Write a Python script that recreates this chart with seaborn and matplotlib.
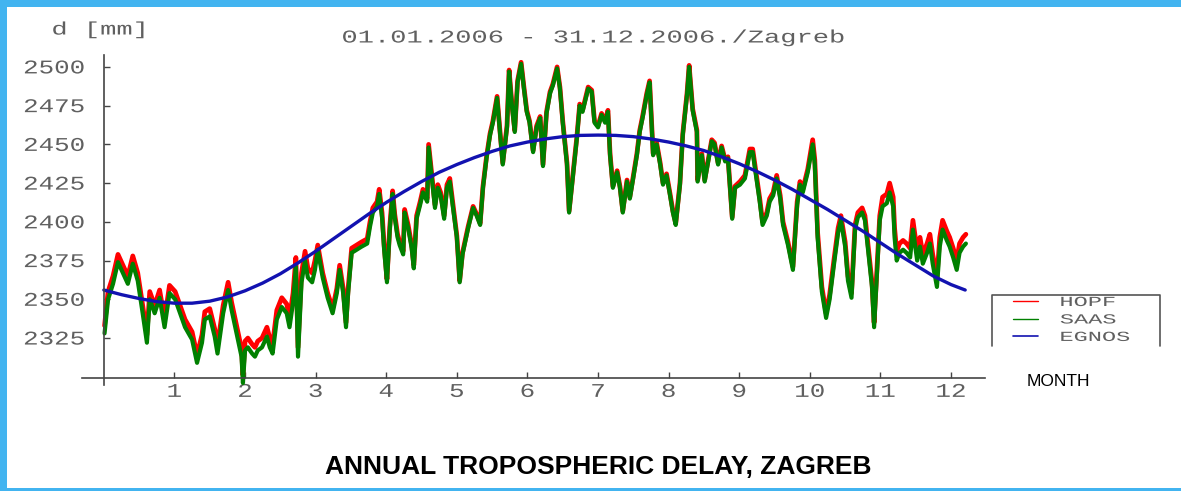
import matplotlib
matplotlib.use("Agg")
import matplotlib.pyplot as plt
import seaborn as sns
from matplotlib.patheffects import AbstractPathEffect
from matplotlib.transforms import Affine2D
from matplotlib.lines import Line2D
from matplotlib.patches import Rectangle

# ---------------- data ----------------
month = [
    0.01, 0.06, 0.13, 0.20, 0.27, 0.34, 0.41, 0.48, 0.55, 0.61,
    0.65, 0.72, 0.79, 0.86, 0.93, 1.01, 1.08, 1.15, 1.25, 1.32,
    1.39, 1.43, 1.50, 1.57, 1.61, 1.69, 1.76, 1.81, 1.88, 1.95,
    1.97, 2.00, 2.04, 2.10, 2.14, 2.18, 2.24, 2.31, 2.35, 2.39,
    2.45, 2.52, 2.59, 2.63, 2.68, 2.72, 2.75, 2.80, 2.85, 2.89,
    2.95, 2.99, 3.03, 3.10, 3.17, 3.24, 3.30, 3.34, 3.39, 3.43,
    3.46, 3.51, 3.58, 3.65, 3.73, 3.77, 3.81, 3.87, 3.90, 3.94,
    3.97, 4.01, 4.05, 4.09, 4.12, 4.16, 4.19, 4.24, 4.26, 4.31,
    4.36, 4.39, 4.43, 4.48, 4.52, 4.58, 4.60, 4.65, 4.69, 4.73,
    4.77, 4.82, 4.86, 4.90, 4.94, 5.00, 5.04, 5.08, 5.16, 5.23,
    5.28, 5.33, 5.37, 5.42, 5.47, 5.51, 5.57, 5.61, 5.65, 5.71,
    5.74, 5.78, 5.82, 5.86, 5.91, 5.95, 5.99, 6.03, 6.08, 6.13,
    6.18, 6.22, 6.27, 6.32, 6.36, 6.42, 6.46, 6.50, 6.56, 6.59,
    6.64, 6.70, 6.74, 6.78, 6.86, 6.91, 6.95, 7.00, 7.05, 7.10,
    7.14, 7.17, 7.21, 7.27, 7.31, 7.35, 7.41, 7.45, 7.49, 7.55,
    7.59, 7.63, 7.69, 7.73, 7.78, 7.83, 7.88, 7.92, 7.97, 8.02,
    8.06, 8.10, 8.16, 8.20, 8.26, 8.29, 8.34, 8.40, 8.41, 8.47,
    8.51, 8.56, 8.61, 8.65, 8.70, 8.75, 8.80, 8.84, 8.90, 8.94,
    9.01, 9.08, 9.15, 9.19, 9.25, 9.29, 9.33, 9.39, 9.43, 9.48,
    9.53, 9.58, 9.62, 9.69, 9.76, 9.82, 9.86, 9.90, 9.97, 10.04,
    10.07, 10.11, 10.17, 10.23, 10.28, 10.34, 10.40, 10.44, 10.50, 10.54,
    10.59, 10.64, 10.68, 10.74, 10.78, 10.82, 10.88, 10.91, 10.95, 10.99,
    11.03, 11.09, 11.13, 11.18, 11.20, 11.23, 11.27, 11.32, 11.37, 11.42,
    11.46, 11.52, 11.56, 11.60, 11.66, 11.70, 11.74, 11.80, 11.84, 11.88,
    11.94, 11.98, 12.03, 12.08, 12.12, 12.17, 12.21,
]

saas = [
    2328, 2350, 2360, 2374, 2367, 2360, 2373, 2362, 2341, 2322,
    2350, 2341, 2351, 2332, 2354, 2350, 2341, 2332, 2324, 2309,
    2322, 2337, 2339, 2326, 2315, 2341, 2356, 2343, 2328, 2313,
    2296, 2317, 2319, 2315, 2313, 2317, 2319, 2326, 2319, 2315,
    2337, 2345, 2341, 2332, 2348, 2371, 2313, 2361, 2375, 2364,
    2361, 2369, 2382, 2364, 2351, 2341, 2354, 2369, 2354, 2332,
    2354, 2380, 2382, 2384, 2386, 2397, 2406, 2410, 2418, 2403,
    2382, 2361, 2395, 2418, 2403, 2390, 2385, 2379, 2406, 2396,
    2383, 2370, 2402, 2411, 2419, 2413, 2448, 2426, 2409, 2422,
    2417, 2402, 2422, 2426, 2411, 2390, 2361, 2379, 2396, 2409,
    2404, 2398, 2422, 2441, 2456, 2464, 2480, 2458, 2437, 2461,
    2497, 2475, 2458, 2490, 2502, 2486, 2471, 2464, 2445, 2461,
    2467, 2436, 2470, 2483, 2488, 2499, 2486, 2464, 2437, 2406,
    2428, 2454, 2475, 2471, 2486, 2484, 2464, 2461, 2469, 2464,
    2471, 2443, 2422, 2432, 2422, 2406, 2426, 2415, 2426, 2443,
    2458, 2467, 2482, 2490, 2443, 2450, 2437, 2424, 2430, 2417,
    2406, 2398, 2424, 2456, 2482, 2500, 2472, 2458, 2426, 2443,
    2426, 2439, 2452, 2450, 2437, 2448, 2439, 2441, 2402, 2422,
    2424, 2428, 2445, 2445, 2426, 2413, 2398, 2404, 2413, 2417,
    2428, 2415, 2398, 2385, 2369, 2411, 2424, 2419, 2432, 2450,
    2437, 2390, 2355, 2338, 2350, 2372, 2393, 2401, 2384, 2362,
    2351, 2395, 2403, 2406, 2401, 2384, 2358, 2332, 2367, 2401,
    2410, 2412, 2419, 2410, 2390, 2375, 2380, 2382, 2380, 2377,
    2395, 2375, 2384, 2373, 2380, 2386, 2373, 2358, 2384, 2395,
    2388, 2384, 2377, 2369, 2380, 2384, 2386,
]

hopf = [
    2333, 2355, 2365, 2379, 2372, 2365, 2378, 2367, 2346, 2327,
    2355, 2346, 2356, 2337, 2359, 2355, 2346, 2337, 2329, 2314,
    2327, 2342, 2344, 2331, 2320, 2346, 2361, 2348, 2333, 2318,
    2301, 2323, 2325, 2321, 2319, 2323, 2325, 2332, 2325, 2321,
    2343, 2351, 2347, 2338, 2354, 2377, 2319, 2367, 2381, 2370,
    2367, 2375, 2385, 2367, 2354, 2344, 2357, 2372, 2357, 2335,
    2357, 2383, 2385, 2387, 2389, 2400, 2409, 2413, 2421, 2406,
    2385, 2363, 2397, 2420, 2405, 2392, 2387, 2381, 2408, 2398,
    2385, 2372, 2404, 2413, 2421, 2415, 2450, 2428, 2411, 2424,
    2419, 2404, 2424, 2428, 2413, 2391, 2362, 2380, 2397, 2410,
    2405, 2399, 2423, 2442, 2457, 2465, 2481, 2459, 2438, 2462,
    2498, 2476, 2459, 2491, 2503, 2487, 2472, 2465, 2446, 2462,
    2468, 2437, 2471, 2484, 2489, 2500, 2487, 2465, 2438, 2407,
    2429, 2455, 2476, 2472, 2487, 2485, 2465, 2462, 2470, 2465,
    2472, 2444, 2423, 2433, 2423, 2407, 2427, 2416, 2427, 2444,
    2459, 2468, 2483, 2491, 2444, 2451, 2438, 2425, 2431, 2418,
    2407, 2399, 2425, 2457, 2483, 2501, 2473, 2459, 2427, 2444,
    2427, 2440, 2453, 2451, 2438, 2449, 2440, 2442, 2403, 2423,
    2426, 2430, 2447, 2447, 2428, 2415, 2400, 2406, 2415, 2419,
    2430, 2417, 2400, 2387, 2371, 2413, 2426, 2421, 2434, 2453,
    2440, 2393, 2358, 2341, 2353, 2375, 2396, 2404, 2387, 2365,
    2354, 2398, 2406, 2409, 2404, 2387, 2361, 2335, 2370, 2404,
    2416, 2418, 2425, 2416, 2396, 2381, 2386, 2388, 2386, 2383,
    2401, 2381, 2390, 2379, 2386, 2392, 2379, 2364, 2390, 2401,
    2394, 2390, 2383, 2375, 2386, 2390, 2392,
]

egnos_month = [
    0.0, 0.25, 0.5, 0.75, 1.0, 1.25, 1.5, 1.75, 2.0, 2.25,
    2.5, 2.75, 3.0, 3.25, 3.5, 3.75, 4.0, 4.25, 4.5, 4.75,
    5.0, 5.25, 5.5, 5.75, 6.0, 6.25, 6.5, 6.75, 7.0, 7.25,
    7.5, 7.75, 8.0, 8.25, 8.5, 8.75, 9.0, 9.25, 9.5, 9.75,
    10.0, 10.25, 10.5, 10.75, 11.0, 11.25, 11.5, 11.75, 12.0, 12.2,
]
egnos = [
    2356.0, 2353.0, 2350.5, 2348.5, 2347.5, 2347.5, 2348.8, 2351.5, 2355.5, 2360.5,
    2366.5, 2373.5, 2381.0, 2389.0, 2397.0, 2405.0, 2412.5, 2419.5, 2426.0, 2432.0,
    2437.0, 2441.5, 2445.5, 2449.0, 2451.5, 2453.5, 2455.0, 2455.8, 2456.0, 2455.8,
    2455.0, 2453.5, 2451.5, 2449.0, 2446.0, 2442.0, 2437.5, 2432.5, 2427.0, 2421.0,
    2414.5, 2408.0, 2401.0, 2394.0, 2386.5, 2379.0, 2372.0, 2365.0, 2359.5, 2356.0,
]

series_names = ["HOPF", "SAAS", "EGNOS"]
month_ticks = list(range(1, 13))
delay_ticks = list(range(2325, 2501, 25))

assert len(month) == len(saas) == len(hopf)
assert len(egnos_month) == len(egnos)


# ------------- horizontal stretch for the wide typewriter lettering -------------
class HStretch(AbstractPathEffect):
    def __init__(self, sx, anchor="center"):
        super().__init__()
        self.sx = sx
        self.anchor = anchor

    def draw_path(self, renderer, gc, tpath, affine, rgbFace=None):
        ext = tpath.get_extents(affine)
        if self.anchor == "right":
            cx = ext.x1
        elif self.anchor == "left":
            cx = ext.x0
        else:
            cx = 0.5 * (ext.x0 + ext.x1)
        tr = affine + Affine2D().translate(-cx, 0).scale(self.sx, 1.0).translate(cx, 0)
        renderer.draw_path(gc, tpath, tr, rgbFace)


sns.set_theme(style="white")
plt.rcParams["font.family"] = ["Liberation Mono", "DejaVu Sans Mono"]

W, H = 1181, 491
fig = plt.figure(figsize=(W / 100, H / 100), dpi=100)
fig.patch.set_facecolor("white")

ax = fig.add_axes([0.0694, 0.2159, 0.7646, 0.6721])
ax.patch.set_alpha(0)

RED, GREEN, BLUE = "#ff0000", "#008000", "#1212b0"
TXT = "#606060"
sns.lineplot(x=month, y=hopf, ax=ax, color=RED, linewidth=3.4, estimator=None, sort=False)
sns.lineplot(x=month, y=saas, ax=ax, color=GREEN, linewidth=3.0, estimator=None, sort=False)
sns.lineplot(x=egnos_month, y=egnos, ax=ax, color=BLUE, linewidth=2.4, estimator=None, sort=False)

ax.set_xlim(-0.31, 12.48)
ax.set_ylim(2294.7, 2507.7)
ax.spines["left"].set_position(("data", 0))
ax.spines["bottom"].set_position(("data", 2299))
for s in ("top", "right"):
    ax.spines[s].set_visible(False)
for s in ("left", "bottom"):
    ax.spines[s].set_color("#444444")
    ax.spines[s].set_linewidth(1.2)

ax.set_xticks(month_ticks)
ax.set_yticks(delay_ticks)
ax.set_xlabel("")
ax.set_ylabel("")
ax.tick_params(direction="in", length=4, width=1, color="#444444",
               labelcolor=TXT, labelsize=14)
ax.tick_params(axis="y", pad=13.5, left=True)
ax.tick_params(axis="x", pad=4, bottom=True)
for t in ax.yaxis.get_major_ticks():
    t.label1.set_path_effects([HStretch(1.33, "right")])
for t in ax.xaxis.get_major_ticks():
    t.label1.set_path_effects([HStretch(1.33, "center")])

# legend (thin sample lines, typewriter labels)
handles = [Line2D([], [], color=RED, lw=1.0),
           Line2D([], [], color=GREEN, lw=1.0),
           Line2D([], [], color=BLUE, lw=1.2)]
leg = ax.legend(handles, series_names, loc="upper left",
                bbox_to_anchor=(1013 / W, 1 - 295 / H), bbox_transform=fig.transFigure,
                frameon=False, fontsize=10, handlelength=1.8, handletextpad=1.6,
                labelspacing=0.25, borderpad=0, borderaxespad=0)
for txt in leg.get_texts():
    txt.set_color(TXT)
    txt.set_path_effects([HStretch(1.7, "left")])
fig.add_artist(Line2D([992 / W, 992 / W, 1160 / W, 1160 / W],
                      [1 - 346 / H, 1 - 295 / H, 1 - 295 / H, 1 - 346 / H],
                      transform=fig.transFigure, color="#555555", lw=1.2))

# texts
fig.text(592 / W, 1 - 38 / H, "01.01.2006 - 31.12.2006./Zagreb", ha="center", va="center",
         fontsize=13, color=TXT, path_effects=[HStretch(1.5, "center")])
fig.text(52 / W, 1 - 30 / H, "d [mm]", ha="left", va="center",
         fontsize=13, color=TXT, path_effects=[HStretch(1.5, "left")])
fig.text(1027 / W, 1 - 382 / H, "MONTH", ha="left", va="center",
         fontsize=12.5, color="black", family=["Liberation Sans", "DejaVu Sans"])
fig.text(598 / W, 1 - 467 / H, "ANNUAL TROPOSPHERIC DELAY, ZAGREB", ha="center", va="center",
         fontsize=19, fontweight="bold", color="black", family=["Liberation Sans", "DejaVu Sans"])

# light-blue page border
BORDER = "#42b4f0"
fig.add_artist(Rectangle((0, 1 - 7 / H), 1, 7 / H, transform=fig.transFigure, color=BORDER, lw=0))
fig.add_artist(Rectangle((0, 0), 7 / W, 1, transform=fig.transFigure, color=BORDER, lw=0))
fig.add_artist(Rectangle((0, 0), 1, 3 / H, transform=fig.transFigure, color=BORDER, lw=0))

fig.savefig("out.png", dpi=100)
